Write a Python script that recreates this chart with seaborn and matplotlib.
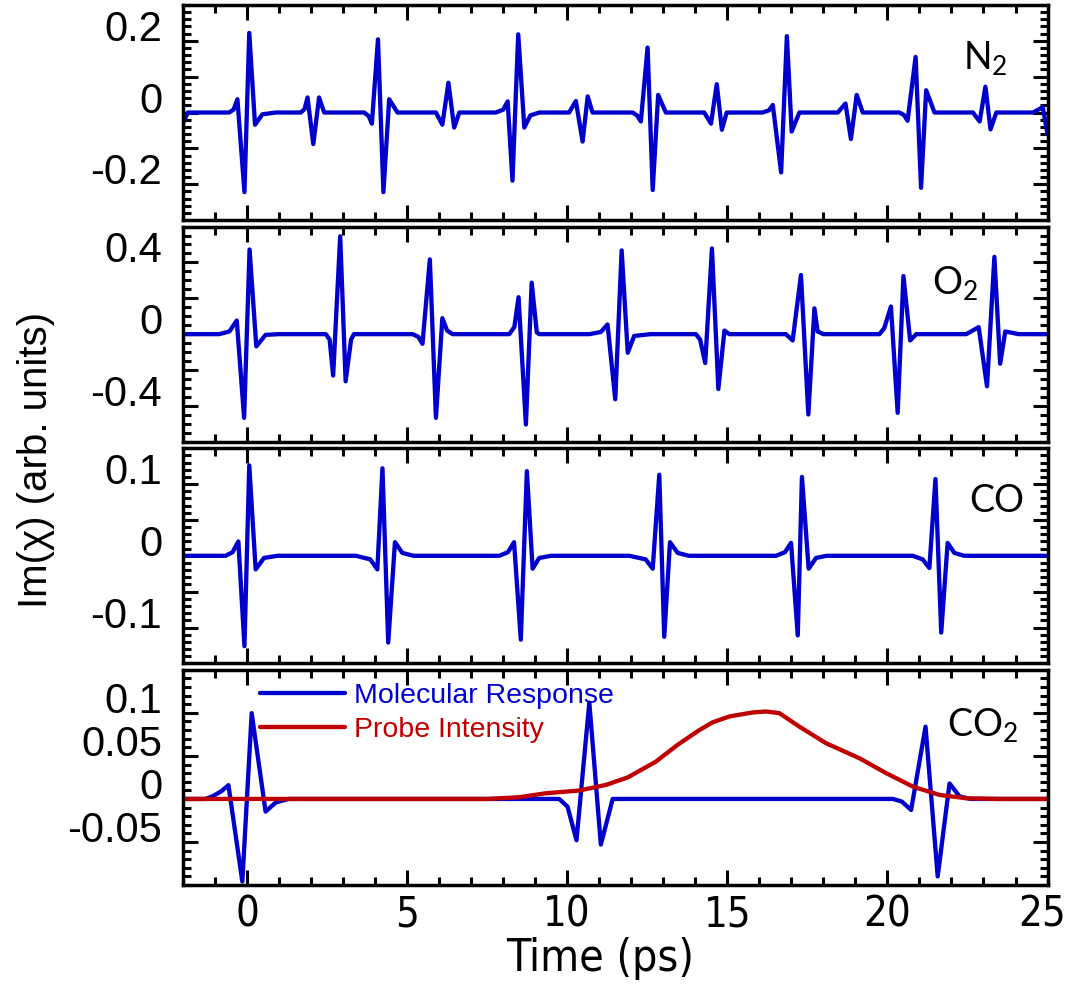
import matplotlib
matplotlib.use("Agg")
import matplotlib.pyplot as plt
from matplotlib import font_manager
from matplotlib.ticker import MultipleLocator
from matplotlib.transforms import ScaledTranslation
import pandas as pd
import seaborn as sns

# ---- data (time in ps, Im(chi) in arb. units) ----
n2_t = [-2.0, -1.85,
        -0.56, -0.42, -0.30, -0.08, 0.07, 0.25, 0.48, 0.9,
        1.68, 1.80, 1.89, 2.07, 2.25, 2.41,
        3.66, 3.80, 3.90, 4.09, 4.26, 4.44, 4.70,
        5.90, 6.10, 6.29, 6.47, 6.63,
        7.77, 8.00, 8.14, 8.29, 8.47, 8.66, 8.85, 9.13,
        10.06, 10.27, 10.48, 10.64, 10.79,
        12.04, 12.18, 12.30, 12.51, 12.67, 12.84, 13.08,
        14.28, 14.49, 14.67, 14.83, 14.98,
        16.10, 16.30, 16.42, 16.68, 16.86, 17.01, 17.25,
        18.45, 18.69, 18.86, 19.04, 19.23,
        20.37, 20.52, 20.63, 20.88, 21.05, 21.21, 21.47,
        22.67, 22.88, 23.06, 23.22, 23.40,
        24.55, 24.85, 25.0]
n2_v = [-0.03, 0.0,
        0.0, 0.008, 0.037, -0.222, 0.222, -0.034, -0.005, 0.0,
        0.0, 0.01, 0.042, -0.088, 0.042, 0.0,
        0.0, -0.01, -0.031, 0.204, -0.222, 0.037, 0.0,
        0.0, -0.034, 0.083, -0.042, 0.0,
        0.0, 0.008, 0.031, -0.190, 0.218, -0.042, -0.008, 0.0,
        0.0, 0.032, -0.081, 0.045, 0.0,
        0.0, -0.008, -0.025, 0.181, -0.216, 0.049, 0.0,
        0.0, -0.031, 0.079, -0.048, 0.0,
        0.0, 0.006, 0.021, -0.167, 0.213, -0.053, 0.0,
        0.0, 0.025, -0.074, 0.049, 0.0,
        0.0, -0.007, -0.023, 0.155, -0.210, 0.062, 0.0,
        0.0, -0.025, 0.072, -0.047, 0.0,
        0.0, 0.015, -0.06]

o2_t = [-2.0, -0.875, -0.55, -0.32, -0.09, 0.08, 0.29, 0.58, 1.0,
        2.46, 2.58, 2.69, 2.91, 3.08, 3.25, 3.34,
        5.17, 5.35, 5.48, 5.71, 5.90, 6.10, 6.25, 6.42,
        8.19, 8.35, 8.48, 8.71, 8.89, 9.05, 9.125,
        10.69, 11.05, 11.26, 11.50, 11.70, 11.89, 12.09, 12.6,
        14.02, 14.15, 14.31, 14.52, 14.72, 14.91, 15.06,
        16.83, 17.04, 17.30, 17.53, 17.72, 17.82, 18.0,
        19.75, 19.90, 20.11, 20.32, 20.50, 20.71, 20.90,
        22.46, 22.85, 23.11, 23.34, 23.52, 23.68, 24.1, 25.0]
o2_v = [0.0, 0.0, 0.015, 0.076, -0.467, 0.472, -0.068, -0.004, 0.0,
        0.0, -0.03, -0.231, 0.546, -0.263, -0.03, 0.0,
        0.0, -0.015, -0.054, 0.417, -0.467, 0.089, 0.02, 0.0,
        0.0, 0.04, 0.206, -0.504, 0.287, 0.01, 0.0,
        0.0, 0.012, 0.054, -0.363, 0.467, -0.104, -0.01, 0.0,
        0.0, -0.03, -0.161, 0.478, -0.306, 0.02, 0.0,
        0.0, -0.035, 0.33, -0.448, 0.144, 0.015, 0.0,
        0.0, 0.033, 0.154, -0.439, 0.324, -0.035, 0.0,
        0.0, 0.039, -0.291, 0.431, -0.165, 0.015, 0.0, 0.0]

co_t = [-2.0, -0.67, -0.45, -0.27, -0.08, 0.07, 0.27, 0.53, 0.95,
        3.40, 3.85, 4.07, 4.23, 4.41, 4.62, 4.85, 5.2,
        7.875, 8.15, 8.34, 8.55, 8.74, 8.92, 9.125, 9.5,
        11.94, 12.45, 12.67, 12.875, 13.03, 13.21, 13.45, 13.8,
        16.52, 16.80, 16.99, 17.20, 17.33, 17.54, 17.77, 18.1,
        20.79, 21.10, 21.31, 21.50, 21.68, 21.88, 22.09, 22.4, 25.0]
co_v = [0.0, 0.0, 0.005, 0.020, -0.126, 0.126, -0.019, -0.003, 0.0,
        0.0, -0.005, -0.019, 0.122, -0.121, 0.019, 0.004, 0.0,
        0.0, 0.005, 0.019, -0.117, 0.118, -0.018, -0.003, 0.0,
        0.0, -0.005, -0.018, 0.113, -0.113, 0.019, 0.004, 0.0,
        0.0, 0.005, 0.018, -0.111, 0.110, -0.018, -0.003, 0.0,
        0.0, -0.005, -0.017, 0.107, -0.107, 0.018, 0.004, 0.0, 0.0]

co2_t = [-2.0, -1.3, -1.08, -0.80, -0.58, -0.146, 0.146, 0.58, 0.90, 1.3,
         9.75, 10.01, 10.29, 10.69, 11.05, 11.42,
         20.17, 20.45, 20.74, 21.19, 21.57, 21.94, 22.25, 22.6, 25.0]
co2_v = [0.0, 0.0, 0.003, 0.009, 0.016, -0.096, 0.0997, -0.0147, -0.004, 0.0,
         0.0, -0.009, -0.048, 0.112, -0.053, 0.0,
         0.0, -0.003, -0.0128, 0.084, -0.090, 0.018, 0.003, 0.0, 0.0]

probe_t = [-2.0, 7.5, 8.5, 9.33, 10.375, 11.21, 11.89, 12.77, 13.45, 14.125,
           14.54, 15.06, 15.79, 16.21, 16.625, 17.25, 18.08, 19.125, 19.96,
           20.79, 21.625, 22.46, 23.5, 25.0]
probe_v = [0.0, 0.0, 0.002, 0.0066, 0.0098, 0.0163, 0.025, 0.0434, 0.063, 0.080,
           0.089, 0.0958, 0.1005, 0.1016, 0.0997, 0.084, 0.0648, 0.0473, 0.030,
           0.0144, 0.0047, 0.0008, 0.0, 0.0]

molecules = ["N$_\\mathregular{2}$", "O$_\\mathregular{2}$", "CO", "CO$_\\mathregular{2}$"]
y_limits = [(-0.3, 0.3), (-0.6, 0.6), (-0.15, 0.15), (-0.1, 0.15)]
y_major = [[-0.2, -0.1, 0, 0.1, 0.2],
           [-0.4, -0.2, 0, 0.2, 0.4],
           [-0.1, -0.05, 0, 0.05, 0.1],
           [-0.05, 0, 0.05, 0.1]]
y_labels = [["-0.2", "", "0", "", "0.2"],
            ["-0.4", "", "0", "", "0.4"],
            ["-0.1", "", "0", "", "0.1"],
            ["-0.05", "0", "0.05", "0.1"]]
y_minor = [0.02, 0.05, 0.01, 0.01]
x_major = [0, 5, 10, 15, 20, 25]
x_labels = ["0", "5", "10", "15", "20", "25"]

# ---- style ----
sns.set_style("ticks")
plt.rcParams["font.family"] = ["Liberation Sans", "DejaVu Sans"]
plt.rcParams["axes.unicode_minus"] = False
for key in ["text.color", "axes.labelcolor", "xtick.color", "ytick.color", "axes.edgecolor"]:
    plt.rcParams[key] = "black"
blue = "#0000CC"
red = "#C00000"
lw = 3.1

# the time axis uses a narrow sans face, if one is installed
narrow_files = [f.fname for f in font_manager.fontManager.ttflist
                if ("Narrow" in f.fname or "Condensed" in f.fname)
                and "Bold" not in f.fname and "Italic" not in f.fname
                and "Oblique" not in f.fname and "Light" not in f.fname]
narrow_files.sort(key=lambda p: ("Liberation" not in p, "DejaVuSans" not in p, p))
if narrow_files:
    x_tick_font = dict(fontproperties=font_manager.FontProperties(fname=narrow_files[0], size=30))
    x_lab_font = dict(fontproperties=font_manager.FontProperties(fname=narrow_files[0], size=32))
else:
    x_tick_font = dict(fontsize=27)
    x_lab_font = dict(fontsize=30)

fig, axes = plt.subplots(4, 1, figsize=(10.7, 9.85), dpi=100, sharex=True)
fig.subplots_adjust(left=0.171, right=0.979, top=0.995, bottom=0.1015, hspace=0.03)

series = [(n2_t, n2_v), (o2_t, o2_v), (co_t, co_v), (co2_t, co2_v)]
name_pos = [(0.902, 0.698), (0.866, 0.685), (0.909, 0.702), (0.884, 0.687)]

for i, ax in enumerate(axes):
    t, v = series[i]
    df = pd.DataFrame({"time": t, "im": v})
    sns.lineplot(data=df, x="time", y="im", ax=ax, color=blue, lw=lw,
                 estimator=None, sort=False,
                 label="Molecular Response" if i == 3 else None)
    if i == 3:
        probe_df = pd.DataFrame({"time": probe_t, "im": probe_v})
        sns.lineplot(data=probe_df, x="time", y="im", ax=ax, color=red, lw=lw,
                     estimator=None, sort=False, label="Probe Intensity")
        ax.legend(loc="upper left", bbox_to_anchor=(0.089, 0.94), frameon=False,
                  fontsize=20.5, labelcolor="linecolor", handlelength=3.0,
                  handletextpad=0.3, labelspacing=0.3, borderpad=0, borderaxespad=0)

    ax.set_xlim(-2, 25)
    ax.set_ylim(*y_limits[i])
    ax.set_yticks(y_major[i], labels=y_labels[i], fontsize=30, va="baseline")
    ax.yaxis.set_minor_locator(MultipleLocator(y_minor[i]))
    ax.xaxis.set_minor_locator(MultipleLocator(1))
    ax.set_xlabel("")
    ax.set_ylabel("")
    ax.tick_params(which="both", direction="in", top=True, right=True,
                   width=2.2, color="black", labelcolor="black")
    ax.tick_params(which="major", length=11)
    ax.tick_params(which="minor", length=6)
    ax.tick_params(axis="y", pad=15)
    ax.tick_params(axis="x", pad=6)
    for sp in ax.spines.values():
        sp.set_linewidth(2.5)
        sp.set_color("black")
    ax.text(name_pos[i][0], name_pos[i][1], molecules[i], transform=ax.transAxes,
            fontfamily="Lato", fontsize=27, ha="left", va="baseline", color="black")

axes[3].set_xticks(x_major, labels=x_labels, **x_tick_font)
# nudge the last label a little left so it stays inside the figure
last = axes[3].get_xticklabels()[-1]
last.set_transform(last.get_transform() + ScaledTranslation(-0.05, 0, fig.dpi_scale_trans))

fig.text(36 / 1070, 0.533, "Im(\u03c7) (arb. units)", rotation=90,
         ha="center", va="center", fontsize=29, color="black")
fig.text(600 / 1070, 1 - 958 / 985, "Time (ps)", ha="center", va="center",
         color="black", **x_lab_font)

fig.savefig("out.png", dpi=100)
